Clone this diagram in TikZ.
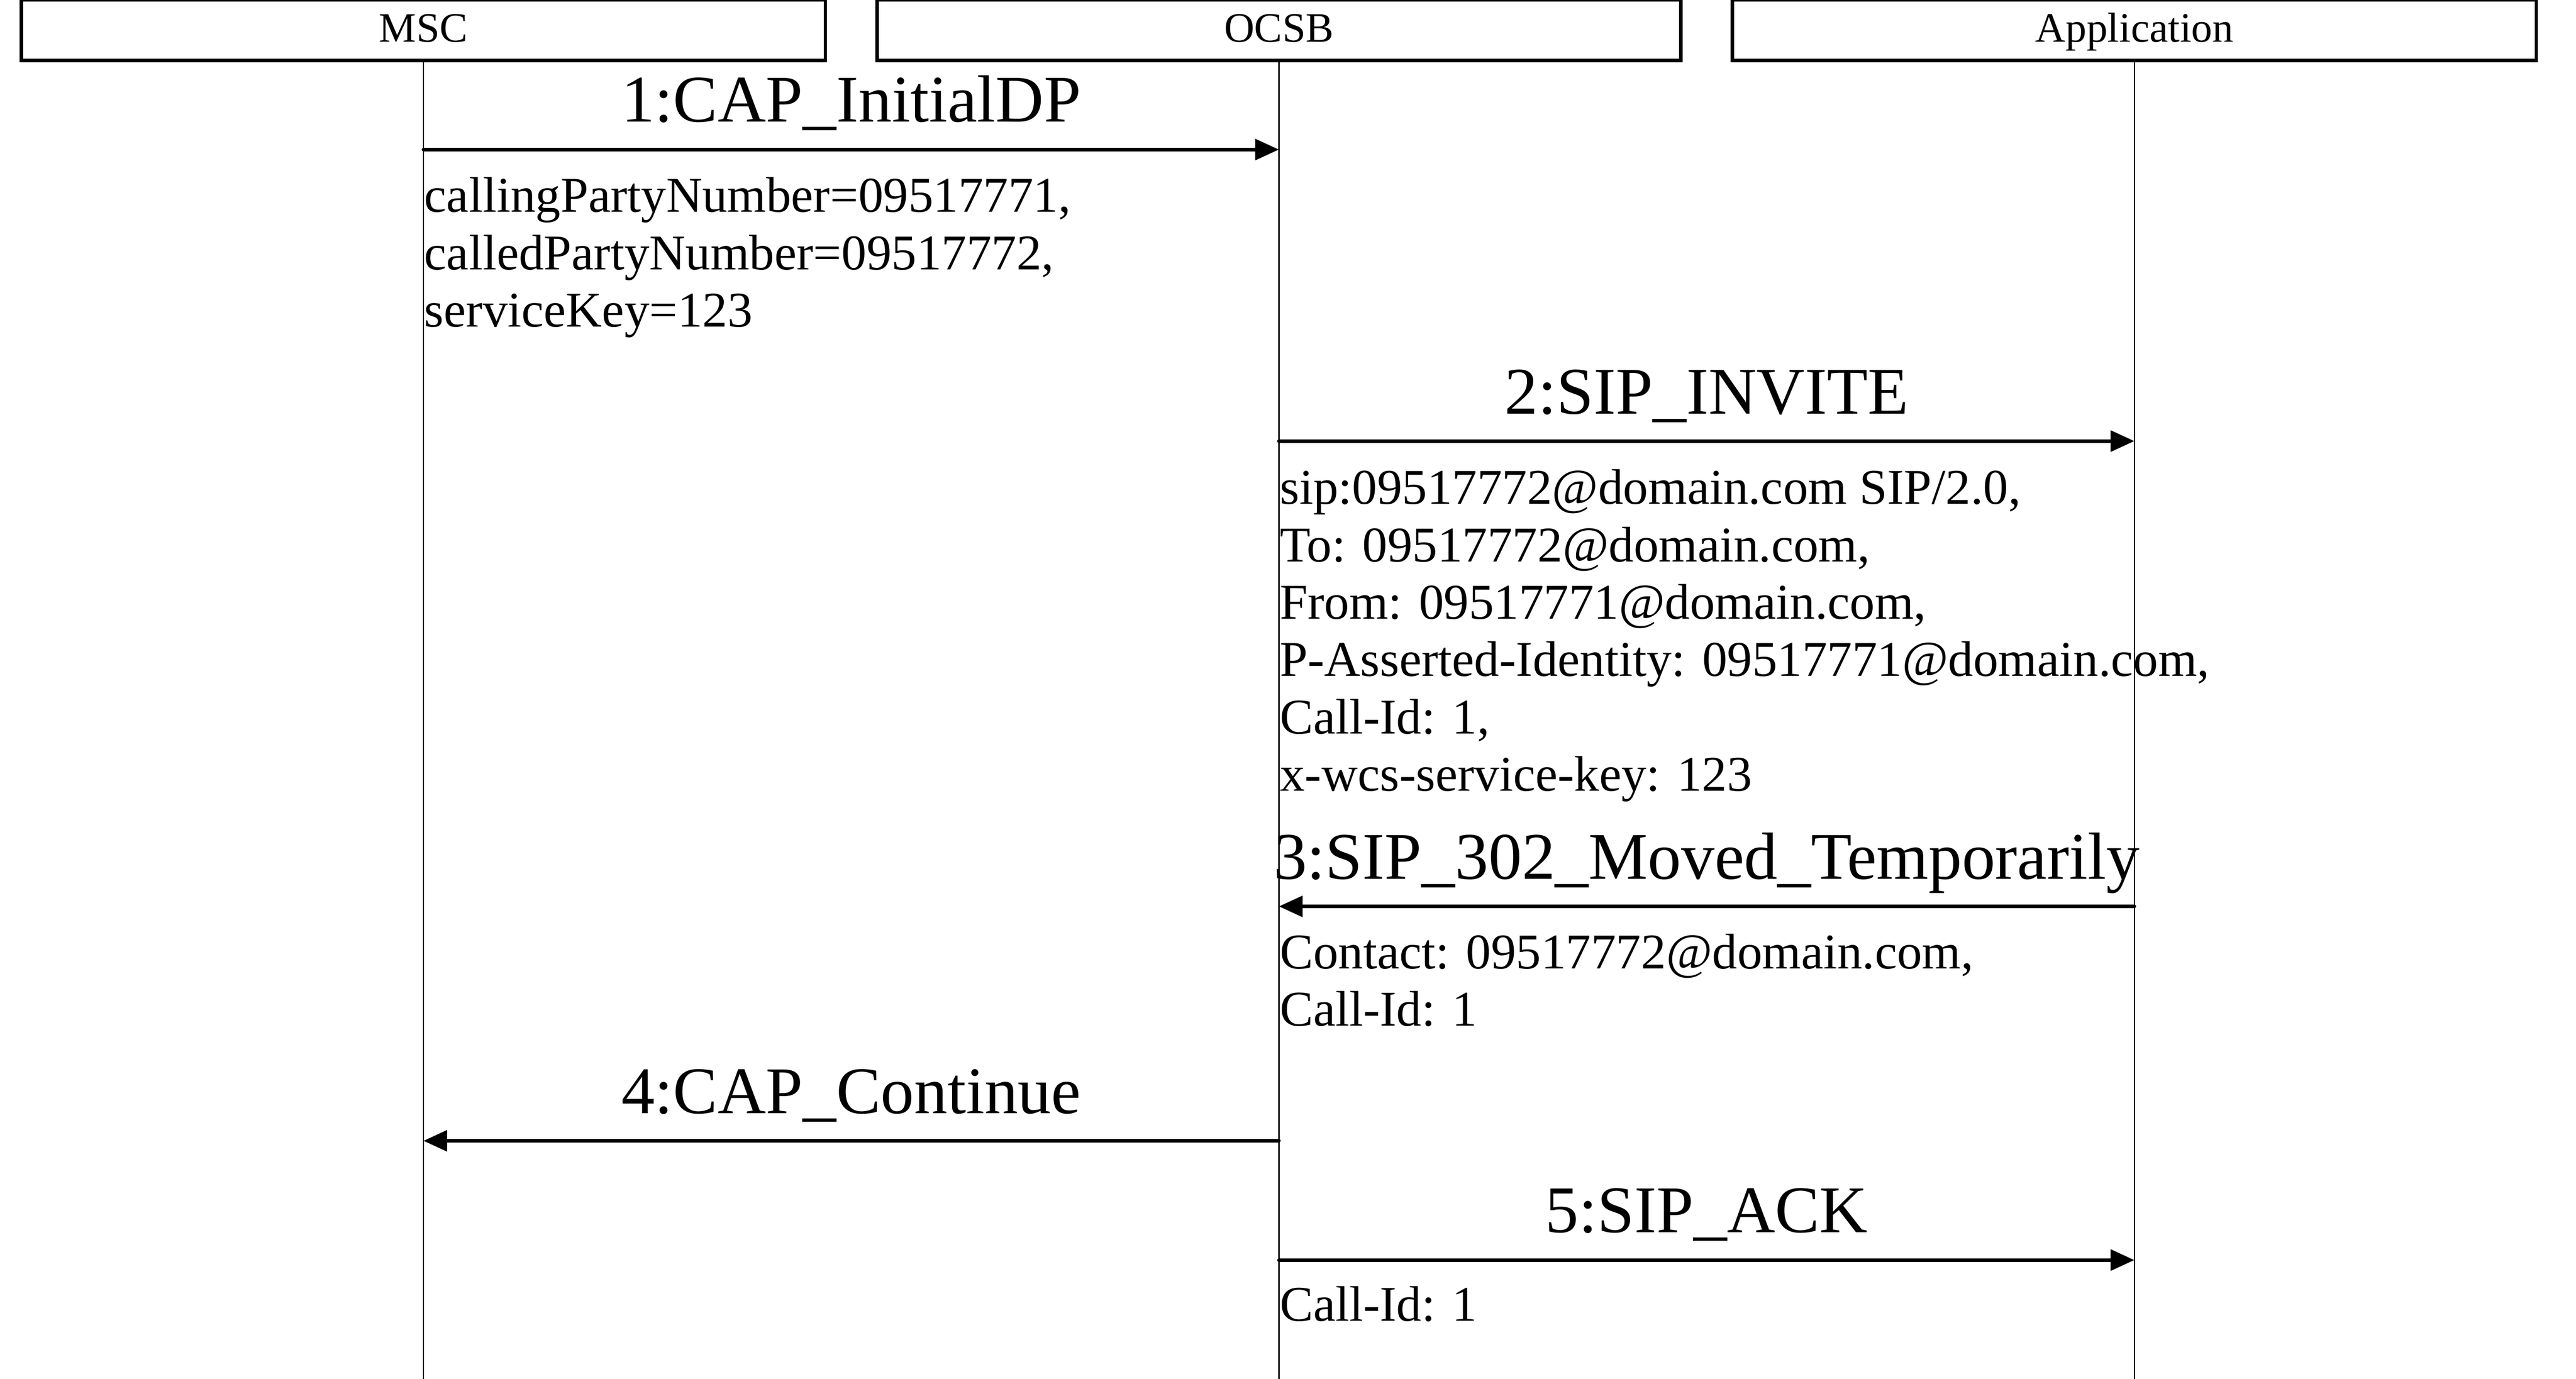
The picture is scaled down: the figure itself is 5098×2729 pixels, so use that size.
\documentclass[tikz,border=0pt]{standalone}
\usepackage{fontspec}
\setmainfont{Liberation Serif}
\usetikzlibrary{arrows.meta}
\begin{document}
\begin{tikzpicture}[x=0.1pt,y=-0.1pt,
  actor/.style={draw, line width=0.7pt, minimum width=159.1pt, minimum height=12pt,
    inner sep=0pt, font=\fontsize{8.3pt}{9pt}\selectfont, text height=5.5pt, text depth=0.8pt},
  life/.style={line width=0.25pt},
  msg/.style={line width=0.7pt, line cap=round, -{Triangle[length=4.7pt,width=4.1pt]}},
  msglabel/.style={anchor=base, inner sep=0pt, font=\fontsize{13.2pt}{15pt}\selectfont},
  params/.style={anchor=base west, inner sep=0pt, align=left, font=\fontsize{9.9pt}{11.35pt}\selectfont}]
\useasboundingbox (0,0) rectangle (5098,2729);
% actors
\node[actor] (msc) at (838,60) {MSC};
\node[actor] (ocsb) at (2531,60) {OCSB};
\node[actor] (app) at (4224,60) {Application};
% lifeline ends
\coordinate (mscend) at (838,2729);
\coordinate (ocsbend) at (2531,2729);
\coordinate (append) at (4224,2729);
\draw[life] (msc.south) -- (mscend);
\draw[life] (ocsb.south) -- (ocsbend);
\draw[life] (app.south) -- (append);
% message points
\coordinate (m1) at (838,296);   \coordinate (o1) at (2531,296);
\coordinate (o2) at (2531,873);  \coordinate (a2) at (4224,873);
\coordinate (a3) at (4224,1794); \coordinate (o3) at (2531,1794);
\coordinate (o4) at (2531,2258); \coordinate (m4) at (838,2258);
\coordinate (o5) at (2531,2494); \coordinate (a5) at (4224,2494);
% messages (params nodes are placed by the baseline of their last line)
\draw[msg] (m1) -- (o1);
\node[msglabel] (l1) at (1684.5,241) {1:CAP\_InitialDP};
\node[params] (p1) at (838,647) {callingPartyNumber=09517771,\\calledPartyNumber=09517772,\\serviceKey=123};
\draw[msg] (o2) -- (a2);
\node[msglabel] (l2) at (3377.5,819) {2:SIP\_INVITE};
\node[params] (p2) at (2531,1565.5) {sip:09517772@domain.com SIP/2.0,\\To: 09517772@domain.com,\\From: 09517771@domain.com,\\P-Asserted-Identity: 09517771@domain.com,\\Call-Id: 1,\\x-wcs-service-key: 123};
\draw[msg] (a3) -- (o3);
\node[msglabel] (l3) at (3377.5,1740) {3:SIP\_302\_Moved\_Temporarily};
\node[params] (p3) at (2531,2031) {Contact: 09517772@domain.com,\\Call-Id: 1};
\draw[msg] (o4) -- (m4);
\node[msglabel] (l4) at (1684.5,2204) {4:CAP\_Continue};
\draw[msg] (o5) -- (a5);
\node[msglabel] (l5) at (3377.5,2439) {5:SIP\_ACK};
\node[params] (p5) at (2531,2615) {Call-Id: 1};
\end{tikzpicture}
\end{document}
